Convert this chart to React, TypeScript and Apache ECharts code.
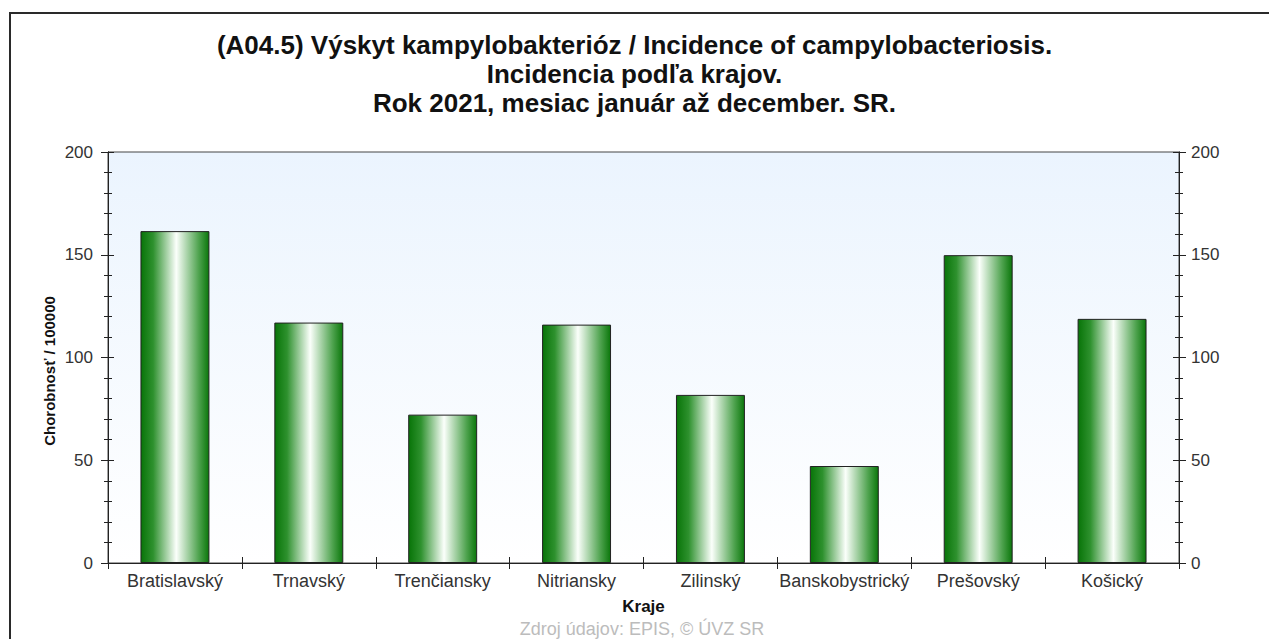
import React, { useEffect, useRef } from "react";
import * as echarts from "echarts";

const categories = ["Bratislavský", "Trnavský", "Trenčiansky", "Nitriansky", "Zilinský", "Banskobystrický", "Prešovský", "Košický"];
const values = [161.5, 117, 72.2, 116, 81.8, 47.2, 149.8, 118.8];
const titleLines = [
  "(A04.5) Výskyt kampylobakterióz / Incidence of campylobacteriosis.",
  "Incidencia podľa krajov.",
  "Rok 2021, mesiac január až december. SR.",
];
const yAxisName = "Chorobnosť / 100000";
const xAxisName = "Kraje";
const footer = "Zdroj údajov: EPIS, © ÚVZ SR";

const FONT = "'Liberation Sans', Arial, sans-serif";

export default function App() {
  const ref = useRef<HTMLDivElement>(null);
  useEffect(() => {
    document.body.style.margin = "0";
    const chart = echarts.init(ref.current!, null, { renderer: "svg" });
    const yCommon = {
      type: "value",
      min: 0,
      max: 200,
      interval: 50,
      splitLine: { show: false },
      axisLine: { show: true, lineStyle: { color: "#222", width: 1 } },
      minorTick: { show: true, splitNumber: 5, length: 4, lineStyle: { color: "#222" } },
      axisTick: { show: true, length: 7, lineStyle: { color: "#222" } },
    };
    const xCommon = {
      type: "category",
      data: categories,
      axisLine: { show: true, lineStyle: { color: "#222", width: 1 } },
      axisTick: { show: true, length: 6, lineStyle: { color: "#222" } },
      splitLine: { show: false },
    };
    chart.setOption({
      animation: false,
      backgroundColor: "#ffffff",
      title: {
        text: titleLines.join("\n"),
        left: "center",
        top: 30,
        padding: 0,
        textStyle: { fontFamily: FONT, fontSize: 26, fontWeight: "bold", color: "#111", lineHeight: 29 },
      },
      grid: {
        left: 108,
        right: 90,
        top: 152,
        bottom: 639 - 563,
        show: true,
        borderColor: "#444",
        borderWidth: 1,
        backgroundColor: new echarts.graphic.LinearGradient(0, 0, 0, 1, [
          { offset: 0, color: "#ebf4fe" },
          { offset: 1, color: "#ffffff" },
        ]),
      },
      xAxis: [
        {
          ...xCommon,
          position: "bottom",
          name: xAxisName,
          nameLocation: "middle",
          nameGap: 35,
          nameTextStyle: { fontFamily: FONT, fontSize: 17, fontWeight: "bold", color: "#111" },
          axisLabel: { fontFamily: FONT, fontSize: 18, color: "#333", margin: 9, interval: 0 },
        },
        { ...xCommon, position: "bottom", axisTick: { ...xCommon.axisTick, inside: true }, axisLabel: { show: false } },
        { ...xCommon, position: "top", axisTick: { ...xCommon.axisTick, inside: true }, axisLabel: { show: false } },
      ],
      yAxis: [
        {
          ...yCommon,
          position: "left",
          axisLabel: { fontFamily: FONT, fontSize: 17, color: "#333", margin: 15 },
        },
        {
          ...yCommon,
          position: "left",
          axisTick: { ...yCommon.axisTick, inside: true, length: 6 },
          minorTick: { ...yCommon.minorTick, inside: true } as any,
          axisLabel: { show: false },
        },
        {
          ...yCommon,
          position: "right",
          axisLabel: { fontFamily: FONT, fontSize: 17, color: "#333", margin: 12 },
        },
        {
          ...yCommon,
          position: "right",
          axisTick: { ...yCommon.axisTick, inside: true, length: 6 },
          minorTick: { ...yCommon.minorTick, inside: true } as any,
          axisLabel: { show: false },
        },
      ],
      series: [
        {
          type: "bar",
          xAxisIndex: 0,
          yAxisIndex: 0,
          data: values,
          barWidth: "51.5%",
          itemStyle: {
            borderColor: "#222",
            borderWidth: 1,
            color: new echarts.graphic.LinearGradient(0, 0, 1, 0, [
              { offset: 0, color: "#087408" },
              { offset: 0.18, color: "#2e912e" },
              { offset: 0.52, color: "#fbfffb" },
              { offset: 0.85, color: "#4fa34f" },
              { offset: 1, color: "#0b770b" },
            ]),
          },
        },
      ],
      graphic: [
        {
          type: "rect",
          shape: { x: 10, y: 13, width: 1300, height: 700 },
          style: { fill: "none", stroke: "#2a2a2a", lineWidth: 2 },
          silent: true,
          z: 100,
        },
        {
          type: "text",
          x: 49,
          y: 371,
          rotation: Math.PI / 2,
          style: {
            text: yAxisName,
            fontFamily: FONT,
            fontSize: 15,
            fontWeight: "bold",
            fill: "#111",
            textAlign: "center",
            textVerticalAlign: "middle",
          },
        },
        {
          type: "text",
          x: 642,
          y: 629,
          style: {
            text: footer,
            fontFamily: FONT,
            fontSize: 18,
            fill: "#bcbcbc",
            textAlign: "center",
            textVerticalAlign: "middle",
          },
        },
      ],
    });
    return () => chart.dispose();
  }, []);
  return <div ref={ref} style={{ width: 1269, height: 639 }} />;
}
